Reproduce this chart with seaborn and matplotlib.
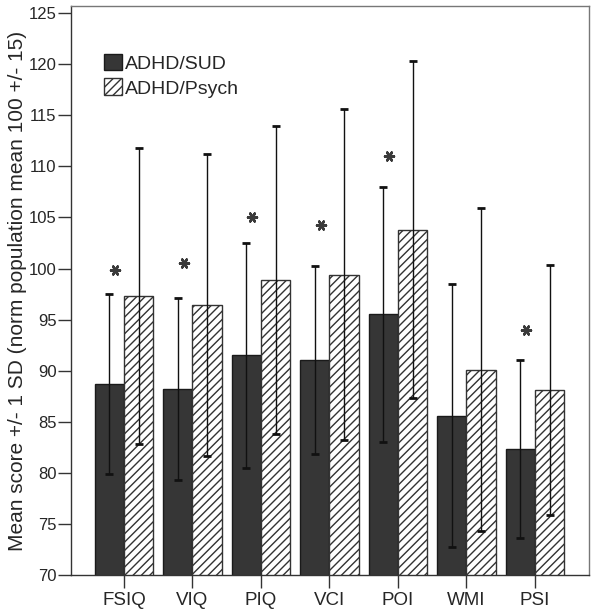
import pandas as pd
import matplotlib
matplotlib.use("Agg")
import matplotlib.pyplot as plt
import seaborn as sns
from matplotlib.patches import Patch

# Values
measures = ["FSIQ", "VIQ", "PIQ", "VCI", "POI", "WMI", "PSI"]
sud_mean = [88.7, 88.2, 91.5, 91.0, 95.5, 85.6, 82.3]
sud_sd = [8.8, 8.9, 11.0, 9.2, 12.5, 12.9, 8.7]
psych_mean = [97.3, 96.4, 98.9, 99.4, 103.8, 90.1, 88.1]
psych_sd = [14.5, 14.8, 15.1, 16.2, 16.5, 15.8, 12.2]
# level of the "*" over the ADHD/SUD bar (None = not significant)
star_level = [99.9, 100.5, 105.0, 104.3, 111.0, None, 94.0]
groups = ["ADHD/SUD", "ADHD/Psych"]

df = pd.DataFrame({
    "measure": measures * 2,
    "score": sud_mean + psych_mean,
    "group": [groups[0]] * len(measures) + [groups[1]] * len(measures),
})

sns.set_style("ticks")
plt.rcParams["font.family"] = ["Liberation Sans", "DejaVu Sans"]
plt.rcParams["hatch.linewidth"] = 1.0

dark = "#363636"
fig = plt.figure(figsize=(6, 6.1), dpi=100)
ax = fig.add_axes([0.1183, 0.0574, 0.8633, 0.9328])

sns.barplot(data=df, x="measure", y="score", hue="group", order=measures,
            hue_order=groups, palette=[dark, "white"], width=0.86,
            errorbar=None, legend=False, ax=ax)

sd_lists = [sud_sd, psych_sd]
mean_lists = [sud_mean, psych_mean]
bar_conts = list(ax.containers)
for i, cont in enumerate(bar_conts):
    xs = []
    for bar in cont:
        bar.set_linewidth(1.0)
        if i == 0:
            bar.set_edgecolor("#1a1a1a")
        else:
            bar.set_edgecolor("#333333")
            bar.set_hatch("////")
        xs.append(bar.get_x() + bar.get_width() / 2)
    ax.errorbar(xs, mean_lists[i], yerr=sd_lists[i], fmt="none",
                ecolor="#111111", elinewidth=1.0, capsize=3, capthick=2,
                zorder=5)
    if i == 0:
        # significance asterisks, slightly right of the SUD error bar
        star_x = [x + 0.09 for x, lv in zip(xs, star_level) if lv is not None]
        star_y = [lv for lv in star_level if lv is not None]
        ax.scatter(star_x, star_y, marker=(6, 2, 90), s=42, linewidths=1.8,
                   color="#3a3a3a", zorder=6)

ax.set_ylim(70, 125.7)
ax.set_xlim(-0.774, 6.788)
ax.set_yticks(range(70, 126, 5))
ax.set_xlabel("")
ax.set_ylabel("Mean score +/- 1 SD (norm population mean 100 +/- 15)",
              fontsize=15, labelpad=1)
ax.tick_params(axis="y", length=9.5, width=1, pad=1, labelsize=12,
               color="#333333")
ax.tick_params(axis="x", length=9.5, width=1, pad=3, labelsize=13.5,
               color="#333333")

for side in ["left", "bottom"]:
    ax.spines[side].set_color("#333333")
    ax.spines[side].set_linewidth(1.0)
for side in ["top", "right"]:
    ax.spines[side].set_visible(True)
    ax.spines[side].set_color("#777777")
    ax.spines[side].set_linewidth(1.0)

handles = [Patch(facecolor=dark, edgecolor="#1a1a1a", label=groups[0]),
           Patch(facecolor="white", edgecolor="#333333", hatch="////",
                 label=groups[1])]
ax.legend(handles=handles, loc="upper left", bbox_to_anchor=(0.048, 0.93),
          frameon=False, fontsize=14, handlelength=0.95, handleheight=0.95,
          handletextpad=0.15, labelspacing=0.3, borderaxespad=0)

fig.savefig("out.png", dpi=100)
